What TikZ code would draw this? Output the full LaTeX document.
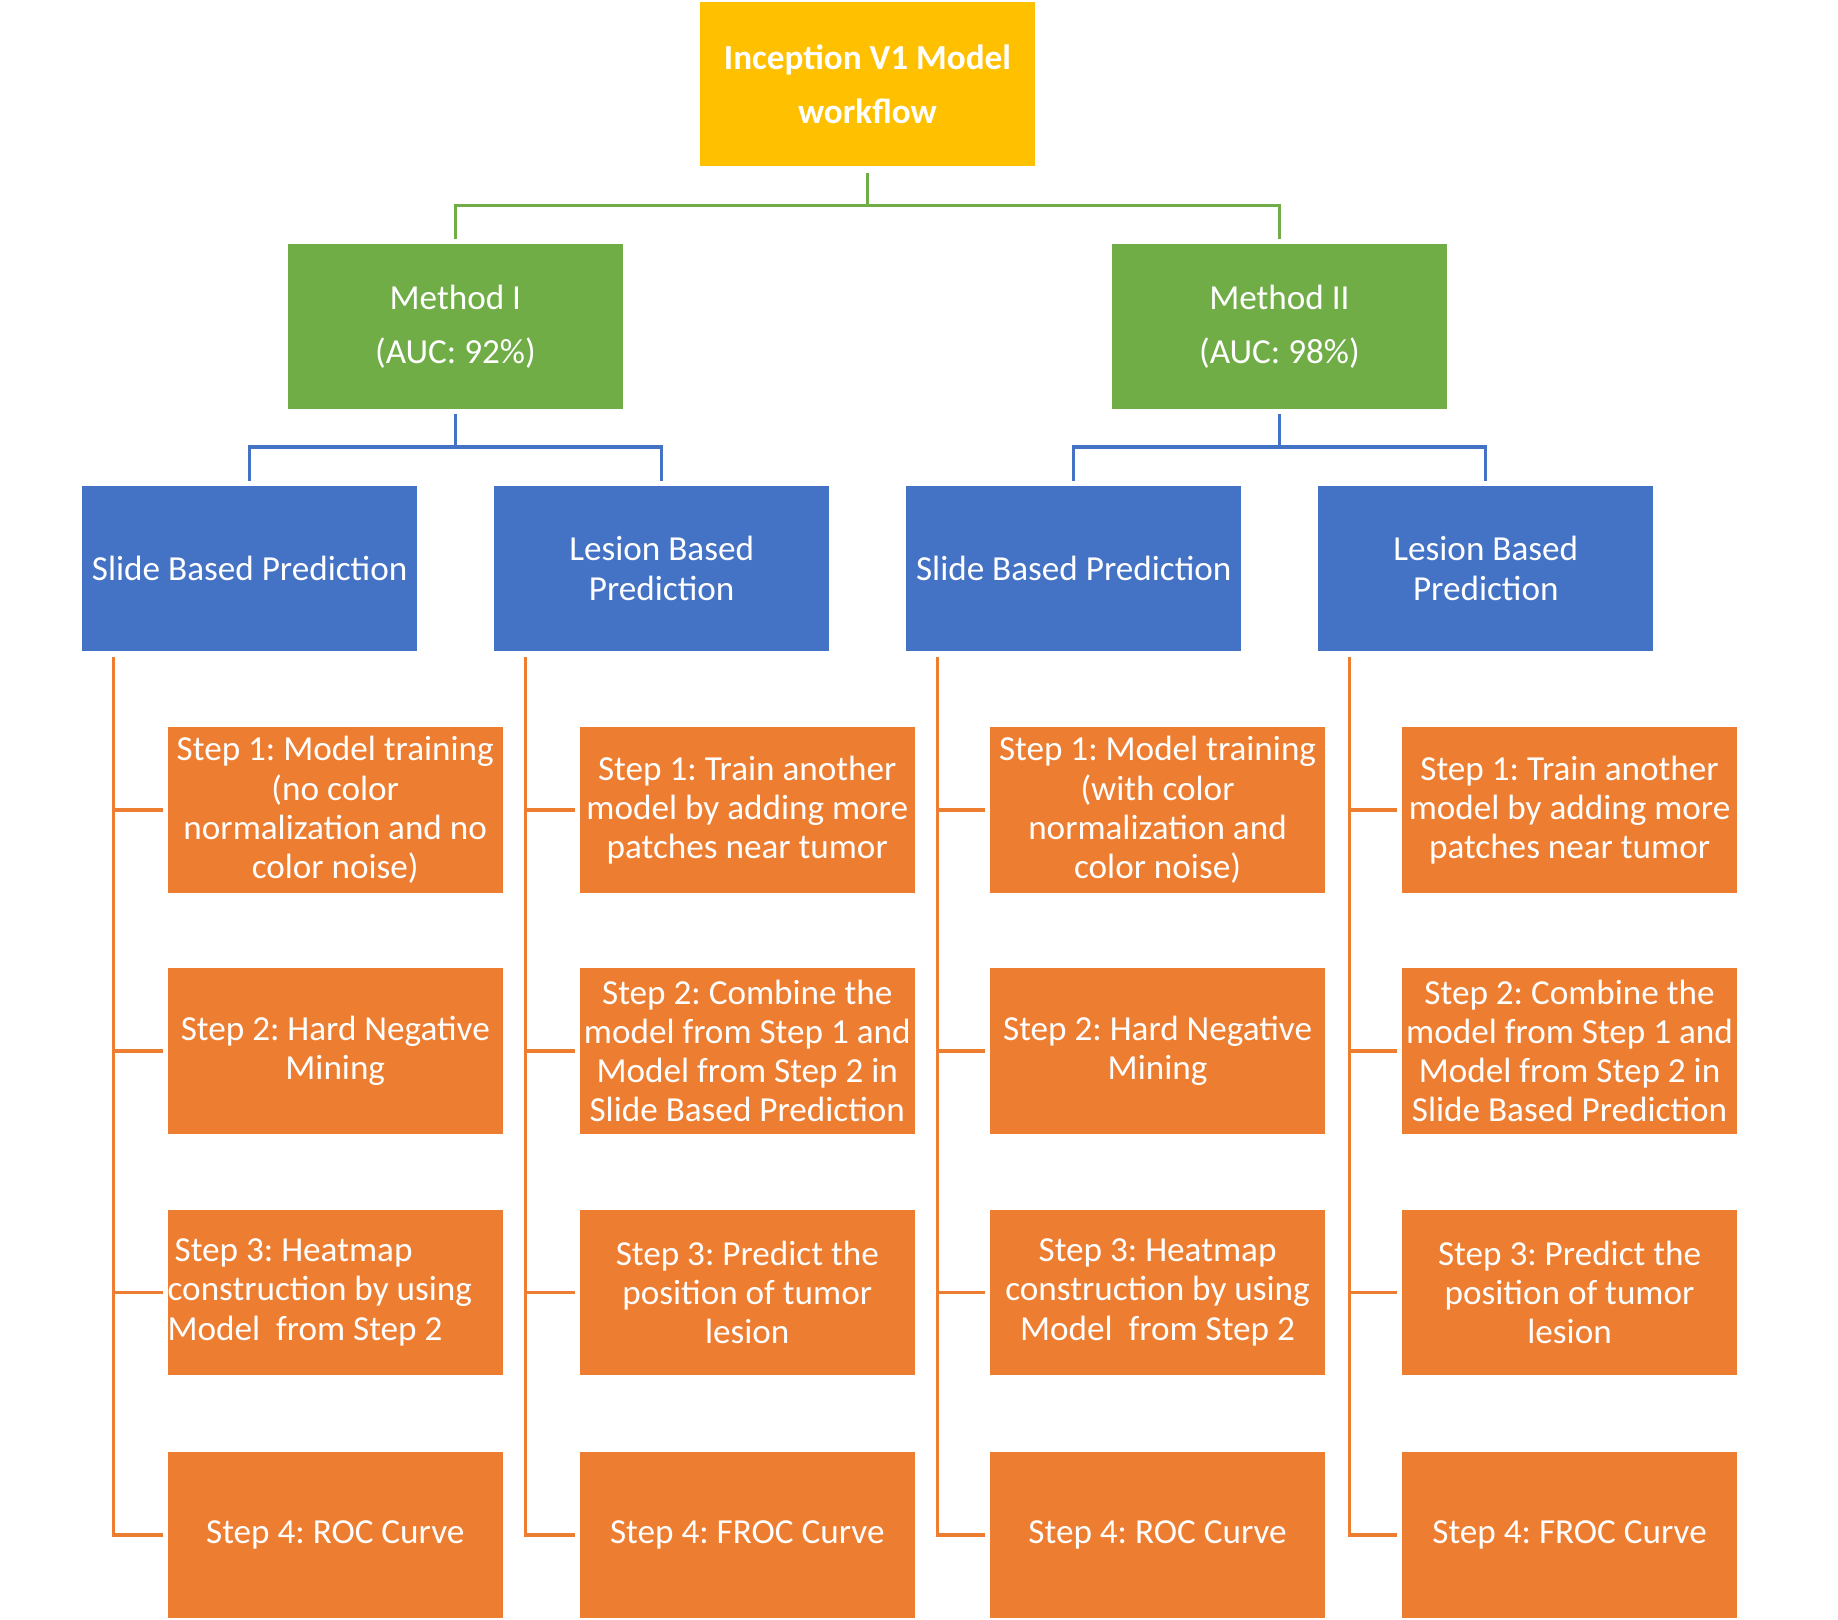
\documentclass[tikz,border=0pt]{standalone}
\usepackage{fontspec}
\setmainfont{Carlito}
\usetikzlibrary{calc}
\definecolor{wfgold}{HTML}{FFC000}
\definecolor{wfgreen}{HTML}{70AD47}
\definecolor{wfblue}{HTML}{4472C4}
\definecolor{wforange}{HTML}{ED7D31}
\frenchspacing
\begin{document}
\begin{tikzpicture}[x=1pt,y=-1pt,
  box/.style={minimum width=286pt, minimum height=141pt, inner sep=0pt,
    text=white, align=center, font=\fontsize{30}{33.5}\selectfont},
  topbox/.style={box, fill=wfgold, minimum height=140pt,
    font=\bfseries\fontsize{30}{46}\selectfont},
  methodbox/.style={box, fill=wfgreen, font=\fontsize{30}{46}\selectfont},
  predbox/.style={box, fill=wfblue},
  stepbox/.style={box, fill=wforange},
  gline/.style={draw=wfgreen, line width=2.9pt},
  bline/.style={draw=wfblue, line width=2.9pt},
  oline/.style={draw=wforange, line width=2.9pt}]
\useasboundingbox (0,0) rectangle (1568,1382);

% root
\node[topbox] (top) at (740,72) {Inception V1 Model\\workflow};

% methods
\node[methodbox] (m1) at (388.5,278.5) {Method I\\(AUC: 92\%)};
\node[methodbox] (m2) at (1091.5,278.5) {Method II\\(AUC: 98\%)};

% prediction types
\node[predbox] (p1) at (213,485) {Slide Based Prediction};
\node[predbox] (p2) at (564.5,485) {Lesion Based\\Prediction};
\node[predbox] (p3) at (916,485) {Slide Based Prediction};
\node[predbox] (p4) at (1267.5,485) {Lesion Based\\Prediction};

% steps, Method I slide based
\node[stepbox] (s11) at (286,691) {Step 1: Model training\\(no color\\normalization and no\\color noise)};
\node[stepbox] (s12) at (286,896.5) {Step 2: Hard Negative\\Mining};
\node[stepbox, text width=286pt, align=flush left] (s13) at (286,1102.5)
  {\hspace*{6pt}Step 3: Heatmap\\construction by using\\Model\ \ from Step 2};
\node[stepbox] (s14) at (286,1309.5) {Step 4: ROC Curve};

% steps, Method I lesion based
\node[stepbox] (s21) at (637.5,691) {Step 1: Train another\\model by adding more\\patches near tumor};
\node[stepbox] (s22) at (637.5,896.5) {Step 2: Combine the\\model from Step 1 and\\Model from Step 2 in\\Slide Based Prediction};
\node[stepbox] (s23) at (637.5,1102.5) {Step 3: Predict the\\position of tumor\\lesion};
\node[stepbox] (s24) at (637.5,1309.5) {Step 4: FROC Curve};

% steps, Method II slide based
\node[stepbox] (s31) at (987.5,691) {Step 1: Model training\\(with color\\normalization and\\color noise)};
\node[stepbox] (s32) at (987.5,896.5) {Step 2: Hard Negative\\Mining};
\node[stepbox] (s33) at (987.5,1102.5) {Step 3: Heatmap\\construction by using\\Model\ \ from Step 2};
\node[stepbox] (s34) at (987.5,1309.5) {Step 4: ROC Curve};

% steps, Method II lesion based
\node[stepbox] (s41) at (1339,691) {Step 1: Train another\\model by adding more\\patches near tumor};
\node[stepbox] (s42) at (1339,896.5) {Step 2: Combine the\\model from Step 1 and\\Model from Step 2 in\\Slide Based Prediction};
\node[stepbox] (s43) at (1339,1102.5) {Step 3: Predict the\\position of tumor\\lesion};
\node[stepbox] (s44) at (1339,1309.5) {Step 4: FROC Curve};

% root to methods
\draw[gline] ($(top.south)+(0,5)$) -- ($(top.south)+(0,33)$);
\draw[gline] ($(m1.north)+(0,-4)$) |- ($(top.south)+(0,33)$) -| ($(m2.north)+(0,-4)$);

% methods to prediction types
\foreach \m/\a/\b in {m1/p1/p2, m2/p3/p4}{
  \draw[bline] ($(\m.south)+(0,4)$) -- ($(\m.south)+(0,32)$);
  \draw[bline] ($(\a.north)+(0,-4)$) |- ($(\m.south)+(0,32)$) -| ($(\b.north)+(0,-4)$);
}

% prediction types to steps
\foreach \c in {1,2,3,4}{
  \coordinate (v\c) at ($(p\c.south west)+(27,5)$);
  \draw[oline] (v\c) |- ($(s\c4.west)+(-4,0)$);
  \foreach \r in {1,2,3}{
    \draw[oline] (v\c |- s\c\r.west) -- ($(s\c\r.west)+(-4,0)$);
  }
}
\end{tikzpicture}
\end{document}
